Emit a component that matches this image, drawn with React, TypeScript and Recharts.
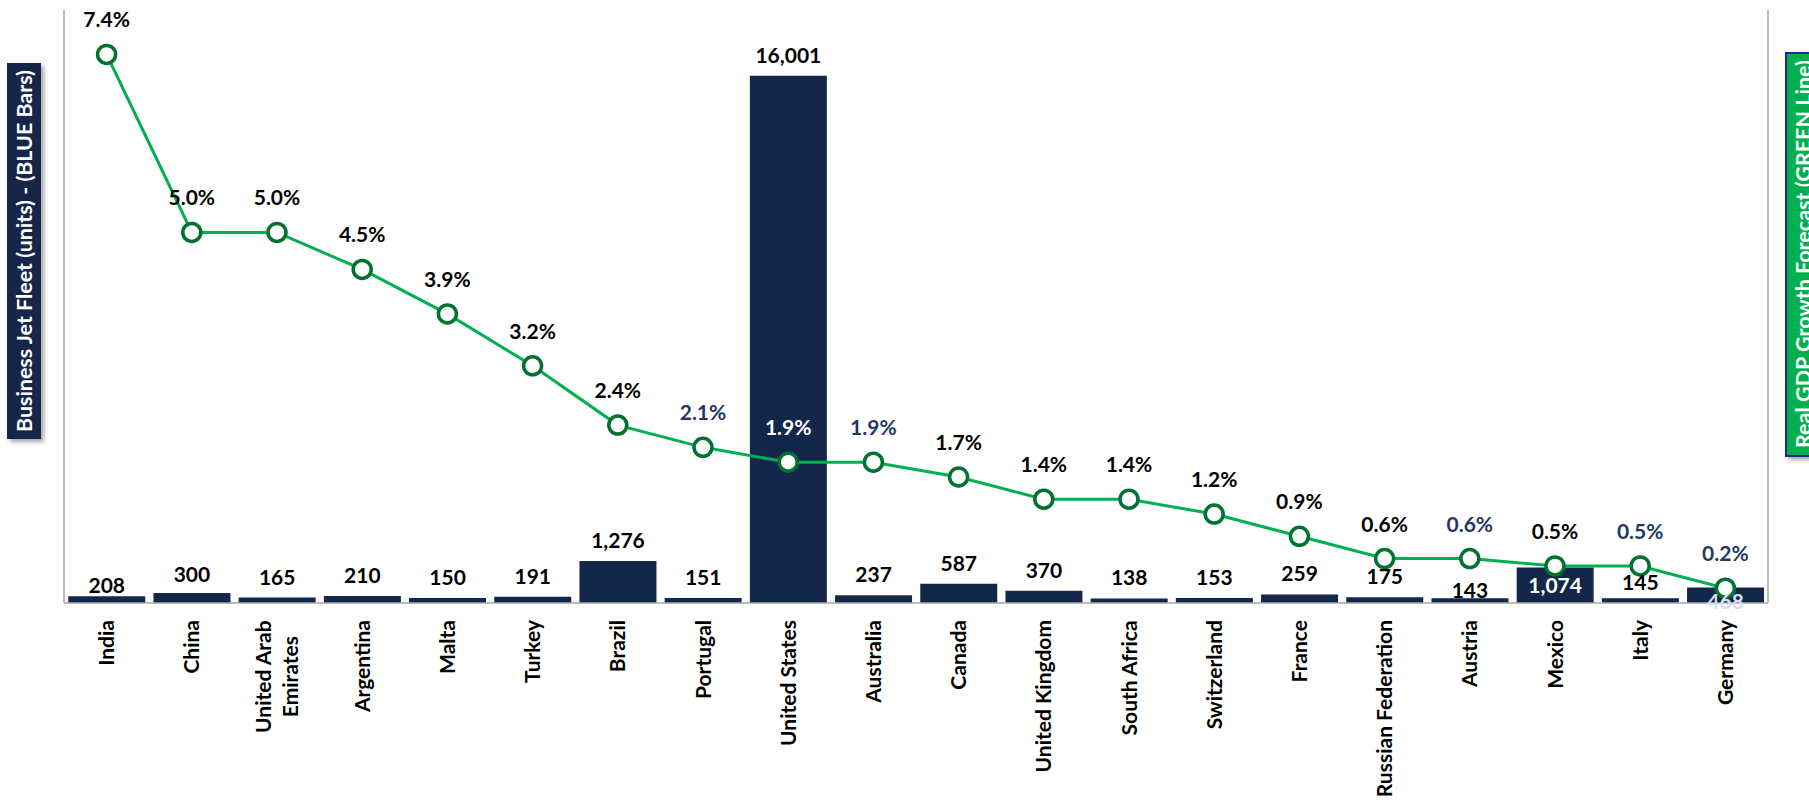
import React from 'react'
import { ComposedChart, Bar, Line, XAxis, YAxis, LabelList } from 'recharts'

const countries = [
  'India', 'China', 'United Arab Emirates', 'Argentina', 'Malta', 'Turkey', 'Brazil',
  'Portugal', 'United States', 'Australia', 'Canada', 'United Kingdom', 'South Africa',
  'Switzerland', 'France', 'Russian Federation', 'Austria', 'Mexico', 'Italy', 'Germany'
]
const jetFleet = [208, 300, 165, 210, 150, 191, 1276, 151, 16001, 237, 587, 370, 138, 153, 259, 175, 143, 1074, 145, 468]
const gdpGrowth = [7.4, 5.0, 5.0, 4.5, 3.9, 3.2, 2.4, 2.1, 1.9, 1.9, 1.7, 1.4, 1.4, 1.2, 0.9, 0.6, 0.6, 0.5, 0.5, 0.2]
const gdpTicks = [0, 1, 2, 3, 4, 5, 6, 7, 8]

const data = countries.map((name, i) => ({ name, fleet: jetFleet[i], gdp: gdpGrowth[i] }))

const FONT = 'Lato, "Open Sans", sans-serif'
const FS = 21
const NAVY = '#13274A'
const GREEN = '#00B050'
const DARK_GREEN = '#00712F'
const LABEL_BLUE = '#1F3864'

// label tweaks, roughly as they were placed by hand in the original
const barLabelDrop: Record<string, number> = { India: 10, China: 2, Austria: 13, Italy: 5 }
const gdpLabelColor: Record<string, string> = {
  Portugal: LABEL_BLUE,
  'United States': '#ffffff',
  Australia: LABEL_BLUE,
  Austria: LABEL_BLUE,
  Italy: LABEL_BLUE,
  Germany: LABEL_BLUE
}

let measureCtx: CanvasRenderingContext2D | null = null
function textWidth(s: string) {
  if (!measureCtx) measureCtx = document.createElement('canvas').getContext('2d')
  if (!measureCtx) return s.length * 10
  measureCtx.font = `700 ${FS}px ${FONT}`
  return measureCtx.measureText(s).width
}

function CountryTick(props: any) {
  const { x, y, payload } = props
  const name: string = payload.value
  const lines = name === 'United Arab Emirates' ? ['United Arab', 'Emirates'] : [name]
  const longest = Math.max(...lines.map(textWidth))
  const gap = 27
  return (
    <g transform={`translate(${x},${y + 17}) rotate(-90)`}>
      {lines.map((ln, i) => (
        <text
          key={ln}
          x={-longest / 2}
          y={(i - (lines.length - 1) / 2) * gap}
          dy="0.36em"
          textAnchor="middle"
          fontFamily={FONT}
          fontWeight={700}
          fontSize={FS}
          fill="#000"
        >
          {ln}
        </text>
      ))}
    </g>
  )
}

function FleetLabel(props: any) {
  const { x, y, width, height, value, index } = props
  const name = countries[index]
  const cx = x + width / 2
  const txt = Number(value).toLocaleString('en-US')
  let ty = y - 13 + (barLabelDrop[name] || 0)
  let fill = '#000'
  if (name === 'Mexico') {
    ty = y + height - 10
    fill = '#ffffff'
  } else if (name === 'Germany') {
    ty = y + height + 6
    fill = '#D6E0F2'
  }
  return (
    <text x={cx} y={ty} textAnchor="middle" fontFamily={FONT} fontWeight={700} fontSize={FS} fill={fill}>
      {txt}
    </text>
  )
}

function GdpLabel(props: any) {
  const { x, y, value, index } = props
  const name = countries[index]
  return (
    <text
      x={x}
      y={y - 27}
      textAnchor="middle"
      fontFamily={FONT}
      fontWeight={700}
      fontSize={FS}
      fill={gdpLabelColor[name] || '#000'}
    >
      {Number(value).toFixed(1)}%
    </text>
  )
}

function AxisTitles() {
  return (
    <svg
      width={1809}
      height={805}
      style={{ position: 'absolute', left: 0, top: 0, pointerEvents: 'none' }}
    >
      <defs>
        <filter id="boxShadow" x="-30%" y="-10%" width="160%" height="120%">
          <feDropShadow dx="3" dy="3" stdDeviation="2" floodColor="#000" floodOpacity="0.35" />
        </filter>
      </defs>
      <rect x={7} y={63} width={34} height={376} fill={NAVY} filter="url(#boxShadow)" />
      <text
        transform="translate(24,251) rotate(-90)"
        textAnchor="middle"
        dy="0.36em"
        fontFamily={FONT}
        fontWeight={700}
        fontSize={FS}
        fill="#fff"
        textLength={362}
        lengthAdjust="spacingAndGlyphs"
      >
        Business Jet Fleet (units) - (BLUE Bars)
      </text>
      <rect x={1786} y={53} width={34} height={403} fill={GREEN} stroke="#1F2A8F" strokeWidth={2} filter="url(#boxShadow)" />
      <text
        transform="translate(1803,254) rotate(-90)"
        textAnchor="middle"
        dy="0.36em"
        fontFamily={FONT}
        fontWeight={700}
        fontSize={FS}
        fill="#fff"
        textLength={388}
        lengthAdjust="spacingAndGlyphs"
      >
        Real GDP Growth Forecast (GREEN Line)
      </text>
    </svg>
  )
}

export default function App() {
  return (
    <div style={{ position: 'absolute', left: 0, top: 0, width: 1809, height: 805, background: '#fff' }}>
      <ComposedChart
        width={1809}
        height={805}
        data={data}
        margin={{ top: 10, right: 40, bottom: 201, left: 63 }}
        barCategoryGap="5%"
      >
        <XAxis
          dataKey="name"
          height={1}
          interval={0}
          tickLine={false}
          axisLine={{ stroke: '#A6A6A6', strokeWidth: 1.5 }}
          tick={<CountryTick />}
          tickSize={0}
          tickMargin={0}
        />
        <YAxis
          yAxisId="left"
          width={1}
          domain={[0, 18000]}
          tick={false}
          tickLine={false}
          axisLine={{ stroke: '#A6A6A6', strokeWidth: 1.5 }}
        />
        <YAxis
          yAxisId="right"
          orientation="right"
          width={1}
          domain={[0, 8]}
          ticks={gdpTicks}
          tick={false}
          tickSize={6}
          tickLine={{ stroke: '#A6A6A6', strokeWidth: 1.5 }}
          axisLine={{ stroke: '#A6A6A6', strokeWidth: 1.5 }}
        />
        <Bar yAxisId="left" dataKey="fleet" fill={NAVY} isAnimationActive={false}>
          <LabelList dataKey="fleet" content={<FleetLabel />} />
        </Bar>
        <Line
          yAxisId="right"
          dataKey="gdp"
          stroke={GREEN}
          strokeWidth={3}
          dot={{ r: 9, fill: '#fff', stroke: DARK_GREEN, strokeWidth: 3.5 }}
          activeDot={false}
          isAnimationActive={false}
        >
          <LabelList dataKey="gdp" content={<GdpLabel />} />
        </Line>
      </ComposedChart>
      <AxisTitles />
    </div>
  )
}
